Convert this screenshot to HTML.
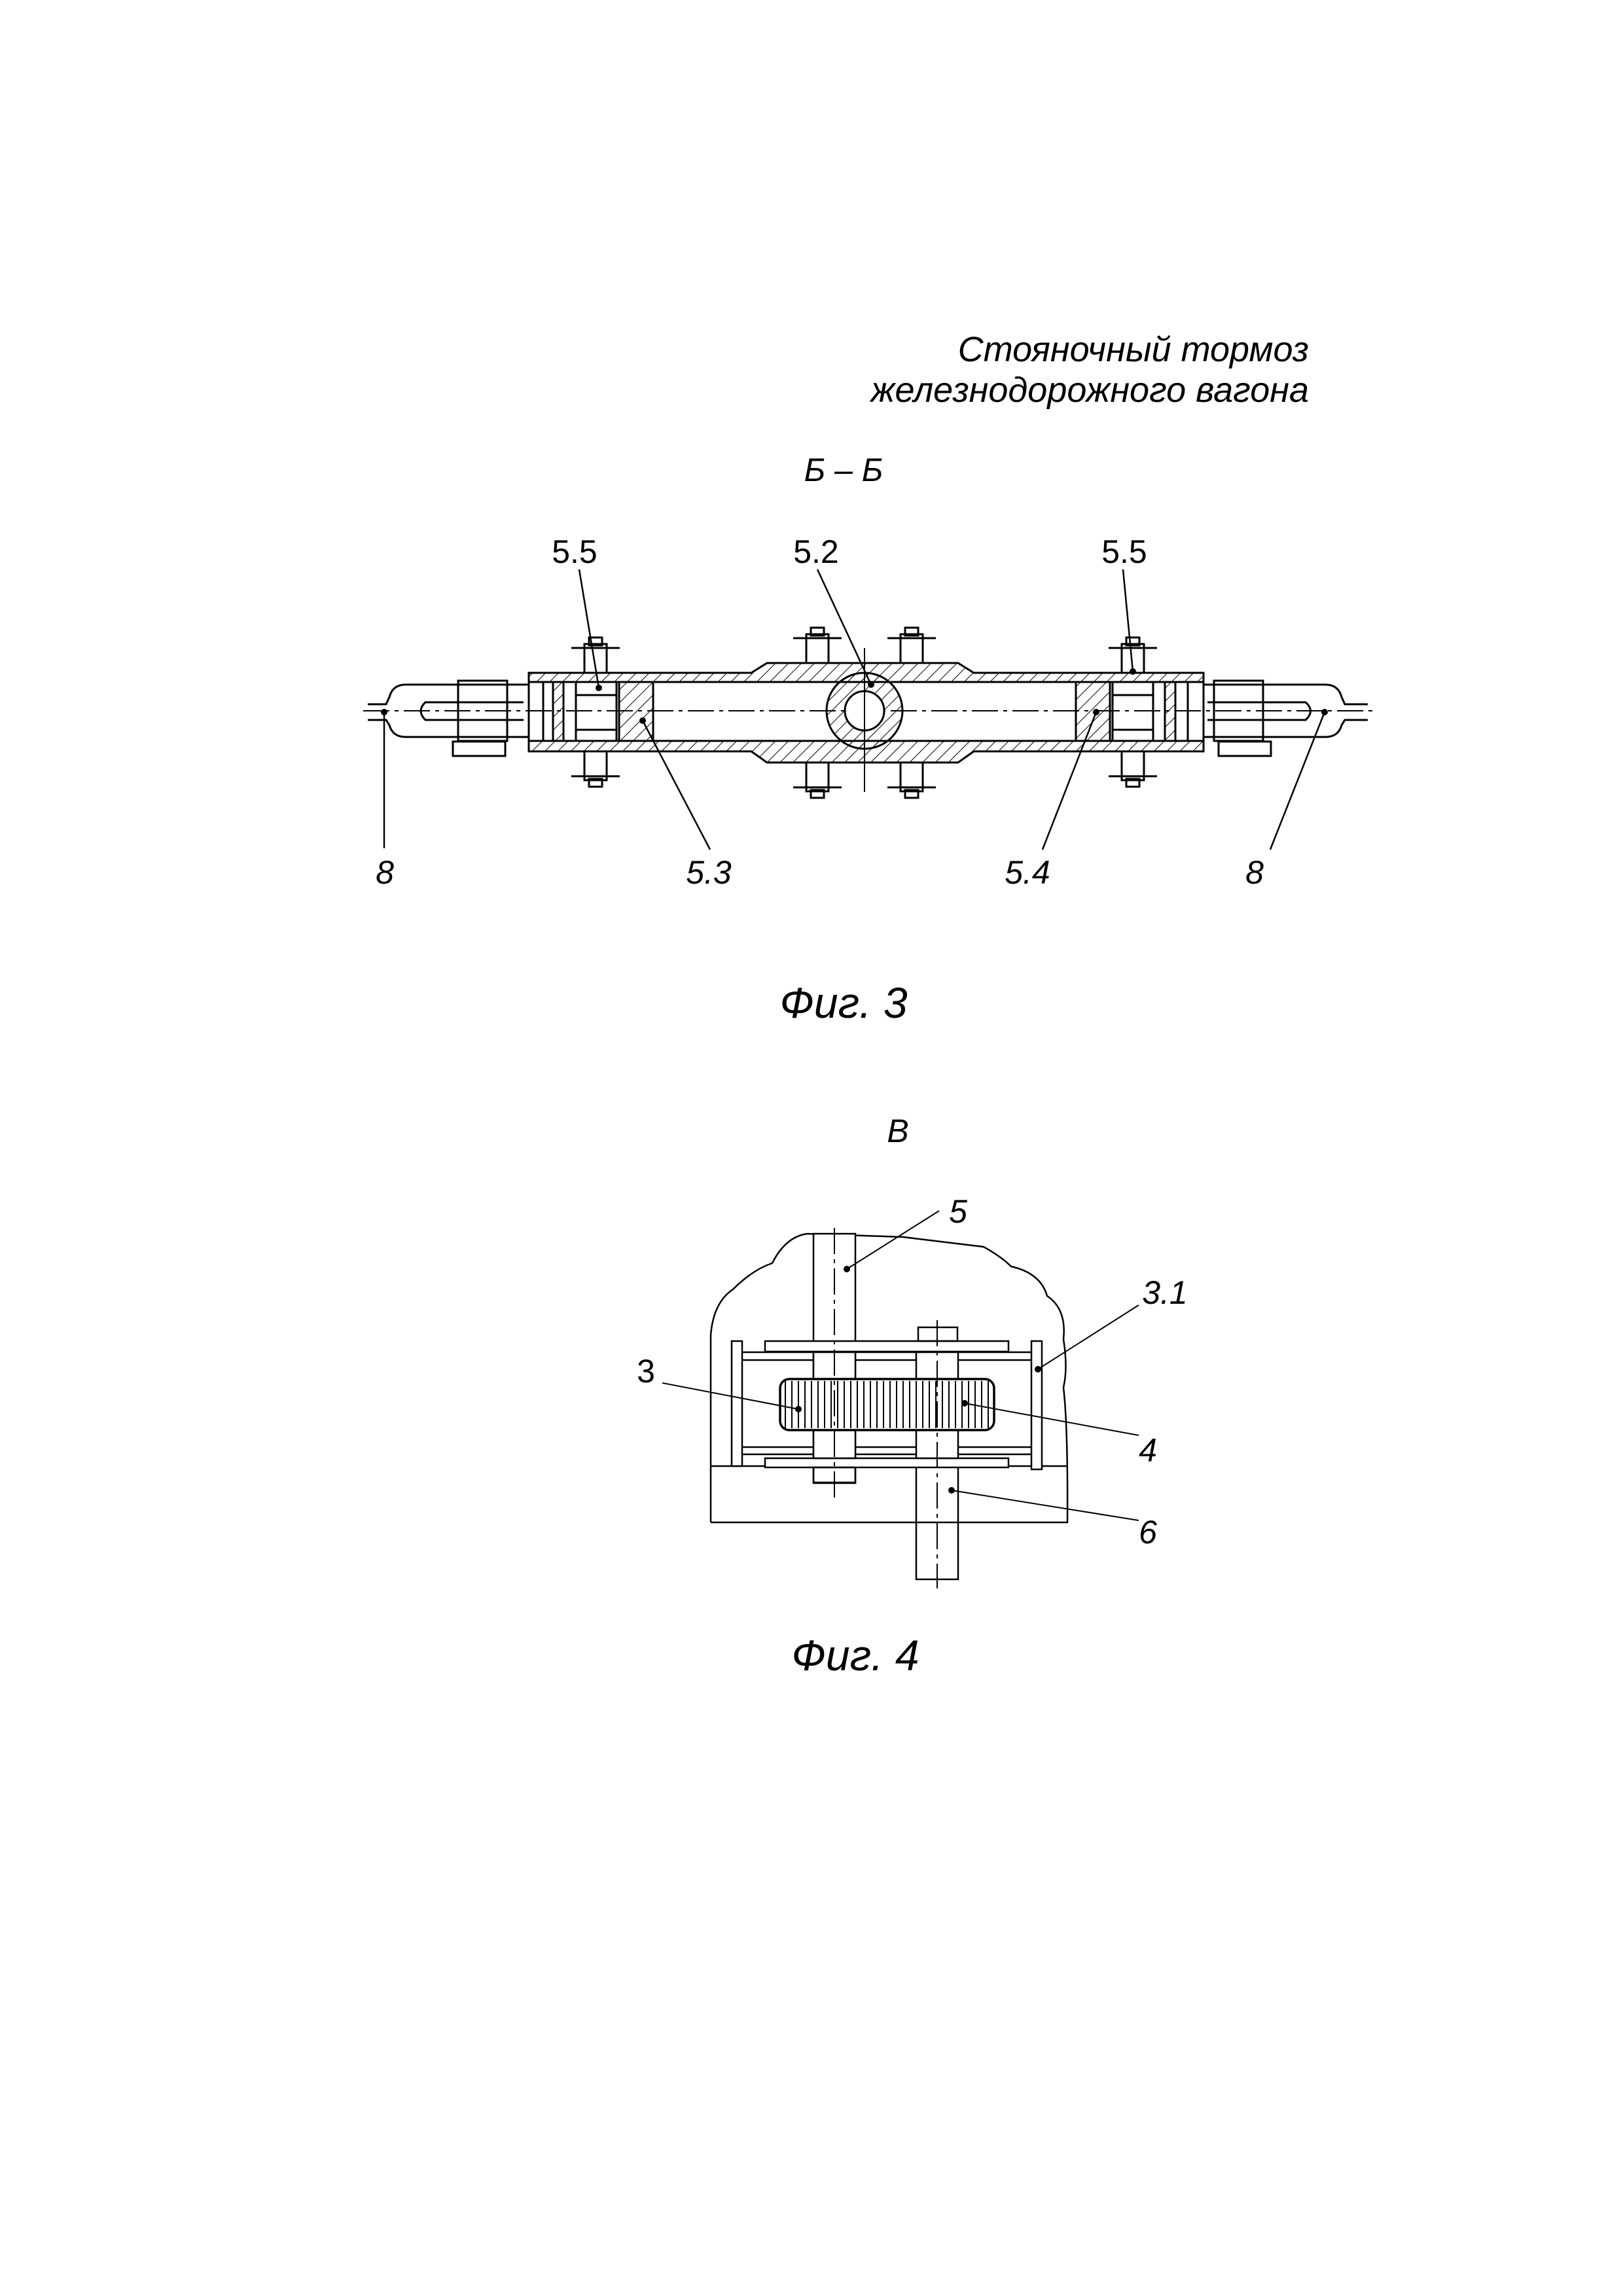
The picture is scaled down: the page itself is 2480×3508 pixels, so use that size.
<!DOCTYPE html>
<html><head><meta charset="utf-8"><style>
html,body{margin:0;padding:0;background:#fff}
svg{display:block}
text{font-family:"Liberation Sans",sans-serif;fill:#000}
</style></head><body>
<svg width="2480" height="3508" viewBox="0 0 2480 3508" xmlns="http://www.w3.org/2000/svg">
<defs>
<pattern id="h" width="14" height="14" patternUnits="userSpaceOnUse" patternTransform="rotate(45)">
<line x1="0" y1="0" x2="0" y2="14" stroke="#000" stroke-width="2"/></pattern>
</defs>
<g font-style="italic">
<text x="2000" y="552" font-size="54" text-anchor="end">Стояночный тормоз</text>
<text x="2000" y="614" font-size="54" text-anchor="end">железнодорожного вагона</text>
<text x="1289" y="735" font-size="50" text-anchor="middle">Б – Б</text>
<text x="1289" y="1555" font-size="66" text-anchor="middle">Фиг. 3</text>
<text x="1372" y="1745" font-size="50" text-anchor="middle">В</text>
<text x="1307" y="2552" font-size="66" text-anchor="middle">Фиг. 4</text>
</g>
<g font-size="50" text-anchor="middle">
<text x="878" y="860">5.5</text><text x="1247" y="860">5.2</text><text x="1718" y="860">5.5</text>
<text x="588" y="1350" font-style="italic">8</text><text x="1083" y="1350" font-style="italic">5.3</text>
<text x="1570" y="1350" font-style="italic">5.4</text><text x="1917" y="1350" font-style="italic">8</text>
<text x="1464" y="1868" font-style="italic">5</text><text x="1780" y="1992" font-style="italic">3.1</text>
<text x="987" y="2112">3</text><text x="1754" y="2233" font-style="italic">4</text><text x="1754" y="2358" font-style="italic">6</text>
</g>
<g stroke="#000" stroke-width="3" fill="none">
<line x1="555" y1="1086" x2="2100" y2="1086" stroke-width="2" stroke-dasharray="40 8 6 8"/>
<path d="M808 1028 H1148 L1172 1013 H1464 L1488 1028 H1839 V1042 H808 Z" fill="url(#h)"/>
<path d="M808 1132 H1839 V1148 H1488 L1464 1165 H1172 L1148 1148 H808 Z" fill="url(#h)"/>
<line x1="808" y1="1042" x2="808" y2="1132"/><line x1="1839" y1="1042" x2="1839" y2="1132"/>
<line x1="830" y1="1042" x2="830" y2="1132"/><line x1="1815" y1="1042" x2="1815" y2="1132"/>
<rect x="946" y="1042" width="52" height="90" fill="url(#h)"/>
<rect x="1644" y="1042" width="52" height="90" fill="url(#h)"/>
<rect x="845" y="1042" width="16" height="90" fill="url(#h)"/>
<rect x="1780" y="1042" width="16" height="90" fill="url(#h)"/>
<rect x="880" y="1042" width="62" height="90"/><rect x="1700" y="1042" width="62" height="90"/>
<line x1="880" y1="1062" x2="942" y2="1062"/><line x1="880" y1="1115" x2="942" y2="1115"/>
<line x1="1700" y1="1062" x2="1762" y2="1062"/><line x1="1700" y1="1115" x2="1762" y2="1115"/>
<circle cx="1321" cy="1086" r="58" fill="url(#h)"/><circle cx="1321" cy="1086" r="30" fill="#fff"/>
<line x1="1321" y1="990" x2="1321" y2="1210" stroke-width="2"/>
<path d="M808 1046 H620 Q600 1046 595 1065 L590 1076 H562 M562 1100 H590 L595 1108 Q600 1126 620 1126 H808"/>
<path d="M800 1073 H650 Q636 1086 650 1100 H800"/>
<rect x="700" y="1040" width="75" height="92"/><rect x="692" y="1133" width="80" height="22"/>
<path d="M1839 1046 H2025 Q2045 1046 2050 1065 L2055 1076 H2090 M2090 1100 H2055 L2050 1108 Q2045 1126 2025 1126 H1839"/>
<path d="M1845 1073 H1995 Q2010 1086 1995 1100 H1845"/>
<rect x="1855" y="1040" width="75" height="92"/><rect x="1862" y="1133" width="80" height="22"/>
<g id="bt">
<rect x="893" y="984" width="34" height="44"/><line x1="873" y1="990" x2="947" y2="990"/>
<rect x="900" y="974" width="20" height="12"/>
</g>
<use href="#bt" transform="translate(339,-15)"/><use href="#bt" transform="translate(483,-15)"/><use href="#bt" transform="translate(821,0)"/>
<g id="bb">
<rect x="893" y="1148" width="34" height="44"/><line x1="873" y1="1186" x2="947" y2="1186"/>
<rect x="900" y="1190" width="20" height="12"/>
</g>
<use href="#bb" transform="translate(339,17)"/><use href="#bb" transform="translate(483,17)"/><use href="#bb" transform="translate(821,0)"/>
</g>
<g stroke="#000" stroke-width="2.5">
<line x1="885" y1="870" x2="915" y2="1051"/><line x1="1249" y1="870" x2="1331" y2="1046"/>
<line x1="1716" y1="870" x2="1731" y2="1026"/><line x1="587" y1="1296" x2="587" y2="1088"/>
<line x1="1085" y1="1298" x2="982" y2="1101"/><line x1="1593" y1="1298" x2="1675" y2="1088"/>
<line x1="1941" y1="1298" x2="2024" y2="1088"/>
</g>
<g fill="#000"><circle cx="915" cy="1051" r="5"/><circle cx="1331" cy="1046" r="5"/><circle cx="1731" cy="1026" r="5"/><circle cx="587" cy="1088" r="5"/><circle cx="982" cy="1101" r="5"/><circle cx="1675" cy="1088" r="5"/><circle cx="2024" cy="1088" r="5"/></g>
<g stroke="#000" stroke-width="2.5" fill="none">
<path d="M1086 2326 V2040 Q1090 1990 1120 1970 Q1150 1940 1180 1930 Q1200 1890 1233 1885 L1380 1890 L1503 1905 Q1530 1920 1545 1935 Q1590 1945 1600 1980 Q1630 2000 1625 2046 Q1632 2090 1625 2120 Q1632 2180 1631 2326 H1086"/>
<line x1="1086" y1="2240" x2="1631" y2="2240"/>
<rect x="1243" y="1885" width="64" height="380" fill="#fff"/>
<rect x="1169" y="2049" width="372" height="16" fill="#fff"/>
<rect x="1169" y="2228" width="372" height="14" fill="#fff"/>
<rect x="1118" y="2049" width="16" height="191" fill="#fff"/>
<rect x="1576" y="2049" width="16" height="196" fill="#fff"/>
<line x1="1134" y1="2066" x2="1576" y2="2066"/><line x1="1134" y1="2078" x2="1576" y2="2078"/>
<line x1="1134" y1="2211" x2="1576" y2="2211"/><line x1="1134" y1="2222" x2="1576" y2="2222"/>
<rect x="1400" y="2066" width="64" height="162" fill="#fff"/>
<rect x="1243" y="2066" width="64" height="162" fill="#fff"/>
<rect x="1192" y="2107" width="327" height="78" rx="14" fill="#fff" stroke-width="3.5"/>
<rect x="1403" y="2028" width="60" height="21"/>
<rect x="1243" y="2242" width="64" height="24"/>
<path d="M1400 2242 V2413 H1464 V2242"/>
</g>
<g stroke="#000" stroke-width="2">
<line x1="1200" y1="2110" x2="1200" y2="2182"/><line x1="1210" y1="2110" x2="1210" y2="2182"/><line x1="1220" y1="2110" x2="1220" y2="2182"/><line x1="1230" y1="2110" x2="1230" y2="2182"/><line x1="1240" y1="2110" x2="1240" y2="2182"/><line x1="1250" y1="2110" x2="1250" y2="2182"/><line x1="1260" y1="2110" x2="1260" y2="2182"/><line x1="1270" y1="2110" x2="1270" y2="2182"/><line x1="1280" y1="2110" x2="1280" y2="2182"/><line x1="1290" y1="2110" x2="1290" y2="2182"/><line x1="1300" y1="2110" x2="1300" y2="2182"/><line x1="1310" y1="2110" x2="1310" y2="2182"/><line x1="1320" y1="2110" x2="1320" y2="2182"/><line x1="1330" y1="2110" x2="1330" y2="2182"/><line x1="1340" y1="2110" x2="1340" y2="2182"/><line x1="1350" y1="2110" x2="1350" y2="2182"/><line x1="1360" y1="2110" x2="1360" y2="2182"/><line x1="1370" y1="2110" x2="1370" y2="2182"/><line x1="1380" y1="2110" x2="1380" y2="2182"/><line x1="1390" y1="2110" x2="1390" y2="2182"/><line x1="1400" y1="2110" x2="1400" y2="2182"/><line x1="1410" y1="2110" x2="1410" y2="2182"/><line x1="1420" y1="2110" x2="1420" y2="2182"/><line x1="1430" y1="2110" x2="1430" y2="2182"/><line x1="1440" y1="2110" x2="1440" y2="2182"/><line x1="1450" y1="2110" x2="1450" y2="2182"/><line x1="1460" y1="2110" x2="1460" y2="2182"/><line x1="1470" y1="2110" x2="1470" y2="2182"/><line x1="1480" y1="2110" x2="1480" y2="2182"/><line x1="1490" y1="2110" x2="1490" y2="2182"/><line x1="1500" y1="2110" x2="1500" y2="2182"/><line x1="1510" y1="2110" x2="1510" y2="2182"/>
<line x1="1275" y1="1876" x2="1275" y2="2289" stroke-dasharray="40 8 6 8"/>
<line x1="1432" y1="2017" x2="1432" y2="2427" stroke-dasharray="40 8 6 8"/>
<line x1="1435" y1="1850" x2="1294" y2="1939"/><line x1="1740" y1="1994" x2="1586" y2="2092"/>
<line x1="1012" y1="2113" x2="1220" y2="2153"/><line x1="1474" y1="2144" x2="1740" y2="2193"/>
<line x1="1454" y1="2277" x2="1740" y2="2323"/>
</g>
<g fill="#000"><circle cx="1294" cy="1939" r="5"/><circle cx="1586" cy="2092" r="5"/><circle cx="1220" cy="2153" r="5"/><circle cx="1474" cy="2144" r="5"/><circle cx="1454" cy="2277" r="5"/></g>
</svg>
</body></html>
